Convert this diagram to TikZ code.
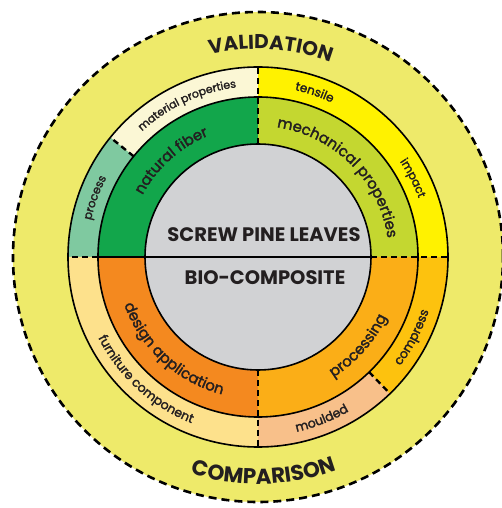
\documentclass[tikz,border=0pt]{standalone}
\usepackage{fontspec}
\setmainfont{Poppins}
\newfontfamily\lblfont[FakeBold=2]{Poppins}
\usetikzlibrary{decorations.text}
\definecolor{outerY}{RGB}{238,234,106}
\definecolor{natG}{RGB}{18,166,75}
\definecolor{procT}{RGB}{127,201,160}
\definecolor{matC}{RGB}{251,247,213}
\definecolor{mechG}{RGB}{196,215,48}
\definecolor{tensY}{RGB}{255,242,0}
\definecolor{desO}{RGB}{244,137,31}
\definecolor{procO}{RGB}{251,174,23}
\definecolor{compY}{RGB}{253,194,14}
\definecolor{mouP}{RGB}{248,192,138}
\definecolor{furY}{RGB}{253,225,140}
\definecolor{coreG}{RGB}{209,210,212}
\definecolor{ink}{RGB}{35,31,32}
\tikzset{
  ring/.style={line width=1.6pt},
  sep/.style={line width=2.4pt, dash pattern=on 6pt off 4pt},
  outerdash/.style={line width=2.6pt, dash pattern=on 8pt off 5pt},
  lbl/.style={decorate, decoration={text along path, text align=center, text color=ink, text={#1}}},
}
\newcommand{\sect}[4]{\fill[#1] (0,0) -- (#2:#4) arc[start angle=#2, end angle=#3, radius=#4] -- cycle;}
\begin{document}
\begin{tikzpicture}[x=1pt,y=1pt]
\useasboundingbox (-258,-251) rectangle (244,257);
% outer region
\fill[outerY] (0,0) circle[radius=245];
% outer ring sectors
\sect{matC}{90}{141}{190}
\sect{procT}{141}{180}{190}
\sect{tensY}{0}{90}{190}
\sect{furY}{180}{270}{190}
\sect{mouP}{270}{314}{190}
\sect{compY}{314}{360}{190}
% inner ring sectors
\sect{natG}{90}{180}{160}
\sect{mechG}{0}{90}{160}
\sect{desO}{180}{270}{160}
\sect{procO}{270}{360}{160}
% core
\fill[coreG] (0,0) circle[radius=113];
% circles
\draw[outerdash] (0,0) circle[radius=245];
\draw[ring] (0,0) circle[radius=190];
\draw[ring] (0,0) circle[radius=160];
\draw[ring] (0,0) circle[radius=113];
% separators
\draw[ring] (180:160) -- (0:113);
\draw[sep] (90:113) -- (90:190);
\draw[sep] (270:113) -- (270:190);
\draw[sep] (0:113) -- (0:190);
\draw[sep] (180:160) -- (180:190);
\draw[sep] (141:160) -- (141:190);
\draw[sep] (314:160) -- (314:190);
% core texts
\node[font=\bfseries\fontsize{19.5}{19.5}\selectfont, text=ink, anchor=base] (spl) at (6,15) {SCREW PINE LEAVES};
\node[font=\bfseries\fontsize{19.5}{19.5}\selectfont, text=ink, anchor=base] (bio) at (7,-28) {BIO-COMPOSITE};
% outer titles
\path[lbl={|\bfseries\fontsize{20}{20}\selectfont|VALIDATION}] (116.5:208) arc[start angle=116.5, end angle=56.5, radius=208];
\path[lbl={|\bfseries\fontsize{21.5}{21.5}\selectfont|COMPARISON}] (241.5:227) arc[start angle=241.5, end angle=301.5, radius=227];
% inner ring labels
\path[lbl={|\lblfont\fontsize{14.8}{14.8}\selectfont|natural fiber}] (162:131) arc[start angle=162, end angle=102, radius=131];
\path[lbl={|\lblfont\fontsize{14.8}{14.8}\selectfont|mechanical properties}] (95:131) arc[start angle=95, end angle=-5, radius=131];
\path[lbl={|\lblfont\fontsize{14.8}{14.8}\selectfont|design application}] (185:142) arc[start angle=185, end angle=270, radius=142];
\path[lbl={|\lblfont\fontsize{14.8}{14.8}\selectfont|processing}] (-75:142) arc[start angle=-75, end angle=-8, radius=142];
% outer ring labels
\path[lbl={|\lblfont\fontsize{11}{11}\selectfont|material properties}] (140:171) arc[start angle=140, end angle=90, radius=171];
\path[lbl={|\lblfont\fontsize{11.5}{11.5}\selectfont|process}] (178:171) arc[start angle=178, end angle=142, radius=171];
\path[lbl={|\lblfont\fontsize{12}{12}\selectfont|tensile}] (86:171) arc[start angle=86, end angle=56, radius=171];
\path[lbl={|\lblfont\fontsize{11.5}{11.5}\selectfont|impact}] (42:171) arc[start angle=42, end angle=12, radius=171];
\path[lbl={|\lblfont\fontsize{12.5}{12.5}\selectfont|furniture component}] (200:179) arc[start angle=200, end angle=255, radius=179];
\path[lbl={|\lblfont\fontsize{12.5}{12.5}\selectfont|moulded}] (-85:179) arc[start angle=-85, end angle=-52, radius=179];
\path[lbl={|\lblfont\fontsize{12.5}{12.5}\selectfont|compress}] (-45:179) arc[start angle=-45, end angle=-10, radius=179];
\end{tikzpicture}
\end{document}
